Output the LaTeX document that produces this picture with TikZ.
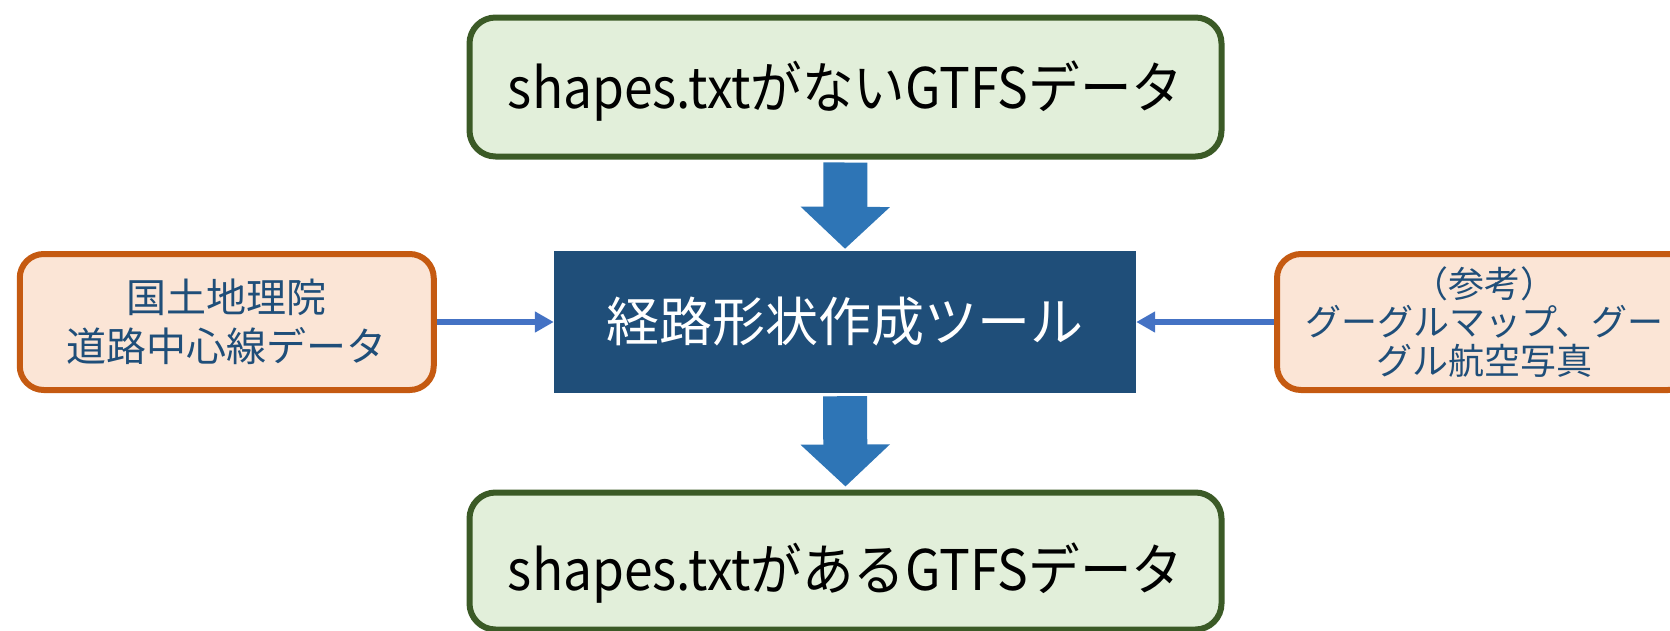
\documentclass[tikz,border=0pt]{standalone}
\usepackage{fontspec}
\newfontfamily\jp{Noto Sans CJK JP}
\usetikzlibrary{arrows.meta}
\definecolor{grnB}{HTML}{3B5A26}
\definecolor{grnF}{HTML}{E2EFDA}
\definecolor{orgB}{HTML}{C55A11}
\definecolor{orgF}{HTML}{FBE5D6}
\definecolor{navy}{HTML}{1F4E79}
\definecolor{bigblue}{HTML}{2E75B6}
\definecolor{thinblue}{HTML}{4472C4}
\newcommand{\gtfstext}[1]{\raisebox{-4pt}[\height][\depth]{\scalebox{0.92}[1]{#1}}}
\begin{document}
\begin{tikzpicture}[x=1pt,y=-1pt,
  gtfsbox/.style={draw=grnB, fill=grnF, line width=6pt, rounded corners=26pt,
    minimum width=752pt, inner sep=0pt, font=\jp\fontsize{56}{60}\selectfont, text=black},
  sidebox/.style={draw=orgB, fill=orgF, line width=6pt, rounded corners=24pt,
    minimum width=414pt, minimum height=136pt, inner sep=0pt, align=center, text=navy},
  toolbox/.style={fill=navy, minimum width=582pt, minimum height=142pt, inner sep=0pt,
    font=\jp\fontsize{53}{60}\selectfont, text=white},
  bigarrow/.style={draw=bigblue, line width=44pt, -{Triangle[length=42pt,width=87pt]}},
  thinarrow/.style={draw=thinblue, line width=6pt, -{Triangle[length=19pt,width=20pt]}}
]
\useasboundingbox (0,0) rectangle (1670,630);
\node[gtfsbox, minimum height=139pt] (src) at (845.5,87) {\gtfstext{shapes.txtがないGTFSデータ}};
\node[toolbox] (tool) at (845,322) {経路形状作成ツール};
\node[gtfsbox, minimum height=137pt] (dst) at (845.5,561) {\raisebox{-8pt}[\height][\depth]{\gtfstext{shapes.txtがあるGTFSデータ}}};
\node[sidebox, font=\jp\fontsize{40}{49}\selectfont] (gsi) at (226.75,322) {国土地理院\\道路中心線データ};
\node[sidebox, minimum width=415pt, font=\jp\fontsize{36}{38.5}\selectfont] (ref) at (1484.5,322) {（参考）\\グーグルマップ、グー\\グル航空写真};
\draw[bigarrow, shorten <=3pt, shorten >=2pt] (src.south) -- (tool.north);
\draw[bigarrow, shorten <=3pt, shorten >=3pt] (tool.south) -- (dst.north);
\draw[thinarrow] (gsi.east) -- (tool.west);
\draw[thinarrow] (ref.west) -- (tool.east);
\end{tikzpicture}
\end{document}
